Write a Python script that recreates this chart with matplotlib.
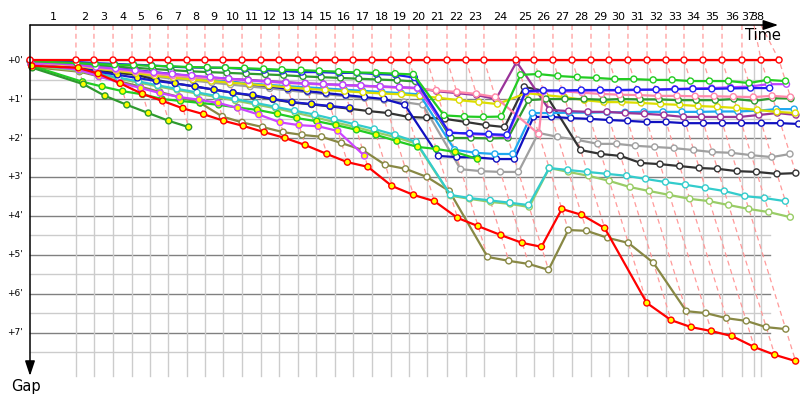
import matplotlib
matplotlib.use("Agg")
import matplotlib.pyplot as plt


# ------------------------------------------------------------
# Race data: leader lap times and gap (minutes) of every car per lap
# index 0 of every gap list is the start line
# ------------------------------------------------------------
lap_end = [0.00, 3.83, 5.33, 6.92, 8.50, 10.00, 11.50, 13.08, 14.58, 16.08,
           17.67, 19.25, 20.75, 22.33, 23.83, 25.42, 26.92, 28.50, 30.08, 31.58,
           33.08, 34.75, 36.33, 37.83, 40.50, 42.00, 43.58, 45.17, 46.75, 48.25,
           49.83, 51.42, 53.00, 54.50, 56.08, 57.67, 59.33, 60.92, 62.42]
lap_marks = lap_end[1:37] + [60.33, 60.92]
lap_numbers = [str(n) for n in range(1, 39)]
gap_ticks = [0, 1, 2, 3, 4, 5, 6, 7]

leader = [0.0] * 39
green = [0.03, 0.08, 0.10, 0.12, 0.13, 0.15, 0.16, 0.18, 0.19, 0.20,
         0.21, 0.23, 0.25, 0.26, 0.28, 0.30, 0.32, 0.33, 0.35, 0.37,
         1.42, 1.45, 1.46, 1.45, 0.38, 0.36, 0.41, 0.44, 0.46, 0.49,
         0.49, 0.51, 0.51, 0.54, 0.54, 0.54, 0.59, 0.51, 0.54]
blue = [0.02, 0.05, 0.08, 0.10, 0.12, 0.14, 0.17, 0.19, 0.20, 0.20,
        0.23, 0.26, 0.28, 0.31, 0.31, 0.33, 0.33, 0.36, 0.38, 0.45,
        1.87, 1.88, 1.90, 1.92, 0.80, 0.78, 0.78, 0.77, 0.77, 0.77,
        0.76, 0.76, 0.75, 0.74, 0.74, 0.73, 0.72, 0.72]
violet = [0.05, 0.12, 0.18, 0.22, 0.27, 0.32, 0.36, 0.40, 0.44, 0.48,
          0.52, 0.55, 0.58, 0.60, 0.62, 0.64, 0.66, 0.68, 0.70, 0.72,
          1.85, 1.90, 1.92, 1.95, 0.82, 0.80, 0.80, 0.79, 0.78, 0.78,
          0.77, 0.76, 0.74, 0.73, 0.72, 0.70, 0.68, 0.62, 0.62]
pink = [0.06, 0.14, 0.20, 0.25, 0.30, 0.35, 0.40, 0.44, 0.47, 0.50,
        0.53, 0.56, 0.59, 0.61, 0.63, 0.65, 0.67, 0.69, 0.71, 0.73,
        0.78, 0.82, 0.87, 0.95, 1.90, 0.78, 0.80, 0.84, 0.87, 0.89,
        0.90, 0.92, 0.92, 0.93, 0.93, 0.94, 0.95, 0.92, 0.95]
dark_green = [0.04, 0.10, 0.14, 0.17, 0.20, 0.23, 0.26, 0.29, 0.31, 0.33,
              0.35, 0.37, 0.39, 0.42, 0.44, 0.46, 0.48, 0.50, 0.52, 0.55,
              2.00, 2.00, 2.01, 2.00, 1.03, 1.00, 1.00, 1.00, 1.02, 1.00,
              1.01, 1.01, 1.03, 1.03, 1.03, 1.00, 1.05, 0.98, 0.99]
yellow = [0.08, 0.15, 0.22, 0.28, 0.34, 0.40, 0.45, 0.50, 0.54, 0.58,
          0.62, 0.66, 0.70, 0.74, 0.77, 0.80, 0.83, 0.86, 0.88, 0.92,
          0.97, 1.03, 1.08, 1.13, 0.85, 0.90, 0.95, 1.03, 1.08, 1.08,
          1.10, 1.13, 1.15, 1.18, 1.20, 1.23, 1.28, 1.33, 1.36]
purple = [0.07, 0.13, 0.19, 0.24, 0.29, 0.34, 0.38, 0.42, 0.45, 0.48,
          0.51, 0.54, 0.57, 0.60, 0.62, 0.64, 0.66, 0.68, 0.70, 0.72,
          0.80, 0.85, 0.90, 1.00, 0.05, 1.28, 1.31, 1.33, 1.33, 1.36,
          1.38, 1.41, 1.46, 1.46, 1.46, 1.46, 1.41, 1.36, 1.41]
light_blue = [0.05, 0.12, 0.20, 0.26, 0.32, 0.38, 0.43, 0.48, 0.52, 0.56,
              0.60, 0.64, 0.67, 0.70, 0.73, 0.76, 0.79, 0.82, 0.85, 0.88,
              2.30, 2.38, 2.41, 2.41, 1.36, 1.36, 1.35, 1.35, 1.34, 1.34,
              1.33, 1.33, 1.33, 1.33, 1.32, 1.32, 1.30, 1.26, 1.26]
dark_blue = [0.04, 0.09, 0.14, 0.20, 0.26, 0.31, 0.36, 0.42, 0.48, 0.55,
             0.62, 0.68, 0.74, 0.80, 0.85, 0.90, 0.95, 1.00, 1.15, 2.46,
             2.49, 2.50, 2.54, 2.54, 1.46, 1.46, 1.49, 1.51, 1.54, 1.56,
             1.59, 1.59, 1.62, 1.62, 1.62, 1.62, 1.62, 1.62, 1.64]
navy = [0.10, 0.20, 0.30, 0.38, 0.46, 0.54, 0.60, 0.68, 0.76, 0.84,
        0.90, 1.00, 1.08, 1.13, 1.18, 1.23]
black = [0.12, 0.22, 0.28, 0.33, 0.38, 0.51, 0.60, 0.68, 0.76, 0.84,
         0.92, 1.01, 1.09, 1.14, 1.19, 1.25, 1.31, 1.36, 1.46, 1.48,
         1.51, 1.59, 1.67, 1.72, 0.69, 0.79, 2.31, 2.41, 2.46, 2.64,
         2.67, 2.72, 2.77, 2.79, 2.85, 2.87, 2.92, 2.90]
grey = [0.10, 0.18, 0.25, 0.31, 0.37, 0.43, 0.48, 0.53, 0.58, 0.63,
        0.68, 0.73, 0.78, 0.83, 0.88, 0.93, 0.98, 1.03, 1.08, 1.15,
        2.80, 2.85, 2.87, 2.87, 1.87, 1.97, 2.05, 2.15, 2.15, 2.20,
        2.23, 2.26, 2.31, 2.36, 2.38, 2.44, 2.49, 2.41]
cyan = [0.12, 0.25, 0.35, 0.45, 0.55, 0.65, 0.74, 0.83, 0.92, 1.00,
        1.10, 1.20, 1.30, 1.40, 1.52, 1.65, 1.77, 1.92, 2.10, 3.46,
        3.54, 3.60, 3.66, 3.72, 2.77, 2.82, 2.87, 2.92, 2.97, 3.05,
        3.13, 3.20, 3.28, 3.36, 3.49, 3.54, 3.62]
yellow_green = [0.14, 0.28, 0.38, 0.48, 0.58, 0.68, 0.77, 0.86, 0.95, 1.04,
                1.14, 1.24, 1.35, 1.47, 1.60, 1.72, 1.85, 1.98, 2.15, 3.48,
                3.56, 3.64, 3.69, 3.77, 2.77, 2.87, 2.97, 3.10, 3.26, 3.36,
                3.46, 3.56, 3.62, 3.72, 3.82, 3.90, 4.03]
lime = [0.15, 0.56, 0.68, 0.80, 0.88, 1.00, 1.05, 1.10, 1.15, 1.22,
        1.28, 1.38, 1.49, 1.57, 1.67, 1.79, 1.92, 2.08, 2.23, 2.28,
        2.36, 2.54]
magenta = [0.10, 0.25, 0.42, 0.58, 0.72, 0.85, 0.95, 1.02, 1.10, 1.23,
           1.40, 1.60, 1.67, 1.70, 1.82, 2.46]
forest = [0.20, 0.62, 0.92, 1.15, 1.36, 1.56, 1.72]
olive = [0.18, 0.30, 0.42, 0.55, 0.68, 0.82, 0.95, 1.10, 1.45, 1.60,
         1.72, 1.85, 1.92, 1.97, 2.13, 2.31, 2.69, 2.79, 3.00, 3.36,
         5.05, 5.15, 5.23, 5.38, 4.36, 4.38, 4.56, 4.69, 5.20, 6.44,
         6.49, 6.62, 6.69, 6.85, 6.90]
red_two = [0.15, 0.20, 0.35, 0.60, 0.87, 1.05, 1.24, 1.39, 1.56, 1.69,
           1.85, 2.00, 2.18, 2.41, 2.62, 2.74, 3.23, 3.46, 3.62, 4.05,
           4.26, 4.49, 4.69, 4.79, 3.82, 3.97, 4.31, 6.23, 6.67, 6.85,
           6.95, 7.08, 7.36, 7.56, 7.72]

# (gaps, colour, last lap with yellow marker fill), drawn bottom to top
drivers = [
    (olive, "#888844", -1),
    (yellow_green, "#99cc66", -1),
    (cyan, "#33cccc", -1),
    (grey, "#a0a0a0", -1),
    (black, "#333333", -1),
    (navy, "#1a1acc", 15),
    (dark_blue, "#1010c0", -1),
    (light_blue, "#1fa8f0", -1),
    (purple, "#993399", -1),
    (yellow, "#dddd00", -1),
    (dark_green, "#2e9a2e", -1),
    (pink, "#ff88aa", -1),
    (violet, "#bb44ff", -1),
    (blue, "#2020f0", -1),
    (green, "#22cc22", -1),
    (lime, "#22cc22", 99),
    (magenta, "#cc44ff", 99),
    (forest, "#2e9a2e", 99),
    (red_two, "#ff0000", 99),
    (leader, "#ff0000", -1),
]

AXIS_TOP = -0.897
GRID_RIGHT = 61.67
GRID_BOTTOM = 8.1

fig = plt.figure(figsize=(8, 4), dpi=100)
ax = fig.add_axes([0, 0, 1, 1])
ax.set_xlim(-2.5, 64.1667)
ax.set_ylim(8.718, -1.5385)
ax.axis("off")

# grid
for k in range(8):
    ax.plot([0, GRID_RIGHT], [k, k], color="#808080", lw=1, zorder=1)
    ax.plot([0, GRID_RIGHT], [k + 0.5, k + 0.5], color="#cccccc", lw=1, zorder=1)
for m in lap_marks:
    ax.plot([m, m], [0, GRID_BOTTOM], color="#cccccc", lw=1, zorder=1)

# dashed lines joining the same lap of every car
for n in range(1, len(lap_end)):
    on_lap = [d[0][n] for d in drivers if len(d[0]) > n]
    gmax = max(on_lap)
    t = lap_end[n]
    ax.plot([lap_marks[n - 1], t, t + gmax], [AXIS_TOP, 0, gmax],
            color="#ff9a9a", lw=0.9, ls=(0, (4, 3)), zorder=2)

# cars
for z, (gaps, colour, yellow_upto) in enumerate(drivers):
    xs = [lap_end[i] + g for i, g in enumerate(gaps)]
    ax.plot(xs, gaps, color=colour, lw=1.6, zorder=3 + z * 0.01)
    fills = ["#ffff00" if i <= yellow_upto else "white" for i in range(len(gaps))]
    ax.scatter(xs, gaps, s=19, c=fills, edgecolors=colour, linewidths=1,
               zorder=3.005 + z * 0.01)

# axes with arrows
ax.annotate("", xy=(62.35, AXIS_TOP), xytext=(0, AXIS_TOP),
            arrowprops=dict(arrowstyle="-|>,head_length=0.9,head_width=0.3",
                            color="black", lw=1.1, shrinkA=0, shrinkB=0),
            zorder=10)
ax.annotate("", xy=(0, 8.1), xytext=(0, AXIS_TOP),
            arrowprops=dict(arrowstyle="-|>,head_length=0.9,head_width=0.3",
                            color="black", lw=1.1, shrinkA=0, shrinkB=0),
            zorder=10)

# labels
edges = [0] + lap_marks
for i, label in enumerate(lap_numbers):
    ax.text((edges[i] + edges[i + 1]) / 2, -1.10, label, ha="center",
            va="center", fontsize=8)
for k in gap_ticks:
    ax.text(-0.6, k, f"+{k}'", ha="right", va="center", fontsize=6.5)
ax.text(59.6, -0.62, "Time", ha="left", va="center", fontsize=10.5)
ax.text(-1.55, 8.36, "Gap", ha="left", va="center", fontsize=10.5)

fig.savefig("out.png", dpi=100)
